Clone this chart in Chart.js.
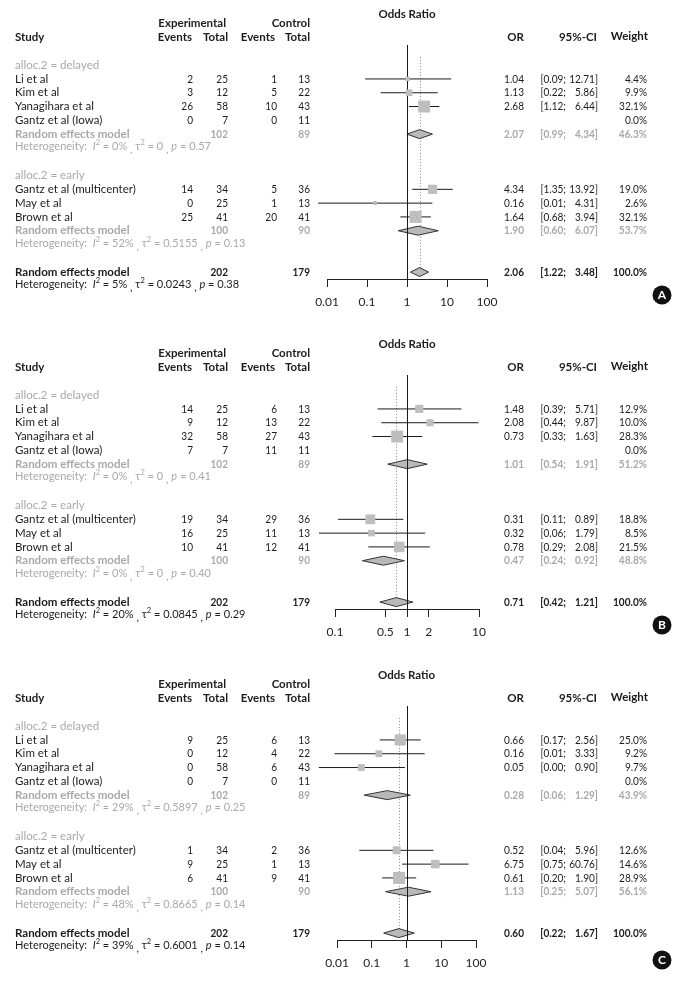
<!DOCTYPE html>
<html>
<head>
<meta charset="utf-8">
<script src="https://cdn.jsdelivr.net/npm/chart.js@4.4.0/dist/chart.umd.min.js"></script>
<style>
  body { margin: 0; background: #fff; }
  canvas { display: block; }
</style>
</head>
<body>
<canvas id="panelA" width="683" height="330"></canvas>
<canvas id="panelB" width="683" height="331"></canvas>
<canvas id="panelC" width="683" height="322"></canvas>
<script>
// studies, same order in all three panels
const studies = ['Li et al', 'Kim et al', 'Yanagihara et al', 'Gantz et al (Iowa)',
                 'Gantz et al (multicenter)', 'May et al', 'Brown et al'];
const groups = ['alloc.2 = delayed', 'alloc.2 = early'];
const groupOf = [0, 0, 0, 0, 1, 1, 1];
const expTotal = [25, 12, 58, 7, 34, 25, 41];
const ctrlTotal = [13, 22, 43, 11, 36, 13, 41];

// panel A
const expEventsA = [2, 3, 26, 0, 14, 0, 25];
const ctrlEventsA = [1, 5, 10, 0, 5, 1, 20];
const orA = [1.04, 1.13, 2.68, null, 4.34, 0.16, 1.64];
const lowerA = [0.09, 0.22, 1.12, null, 1.35, 0.006, 0.68];
const upperA = [12.71, 5.86, 6.44, null, 13.92, 4.31, 3.94];
const weightA = [4.4, 9.9, 32.1, 0.0, 19.0, 2.6, 32.1];
// pooled estimates: delayed, early, overall
const poolOrA = [2.07, 1.90, 2.06];
const poolLowerA = [0.99, 0.60, 1.22];
const poolUpperA = [4.34, 6.07, 3.48];
const poolWeightA = [46.3, 53.7, 100.0];
const hetI2A = ['0%', '52%', '5%'];
const hetTauA = ['0', '0.5155', '0.0243'];
const hetPA = ['0.57', '0.13', '0.38'];
const ticksA = [0.01, 0.1, 1, 10, 100];

// panel B
const expEventsB = [14, 9, 32, 7, 19, 16, 10];
const ctrlEventsB = [6, 13, 27, 11, 29, 11, 12];
const orB = [1.48, 2.08, 0.73, null, 0.31, 0.32, 0.78];
const lowerB = [0.39, 0.44, 0.33, null, 0.11, 0.06, 0.29];
const upperB = [5.71, 9.87, 1.63, null, 0.89, 1.79, 2.08];
const weightB = [12.9, 10.0, 28.3, 0.0, 18.8, 8.5, 21.5];
const poolOrB = [1.01, 0.47, 0.71];
const poolLowerB = [0.54, 0.24, 0.42];
const poolUpperB = [1.91, 0.92, 1.21];
const poolWeightB = [51.2, 48.8, 100.0];
const hetI2B = ['0%', '0%', '20%'];
const hetTauB = ['0', '0', '0.0845'];
const hetPB = ['0.41', '0.40', '0.29'];
const ticksB = [0.1, 0.5, 1, 2, 10];

// panel C
const expEventsC = [9, 0, 0, 0, 1, 9, 6];
const ctrlEventsC = [6, 4, 6, 0, 2, 1, 9];
const orC = [0.66, 0.16, 0.05, null, 0.52, 6.75, 0.61];
const lowerC = [0.17, 0.0085, 0.003, null, 0.044, 0.75, 0.20];
const upperC = [2.56, 3.33, 0.90, null, 5.96, 60.76, 1.90];
const weightC = [25.0, 9.2, 9.7, 0.0, 12.6, 14.6, 28.9];
const poolOrC = [0.28, 1.13, 0.60];
const poolLowerC = [0.06, 0.25, 0.22];
const poolUpperC = [1.29, 5.07, 1.67];
const poolWeightC = [43.9, 56.1, 100.0];
const hetI2C = ['29%', '48%', '39%'];
const hetTauC = ['0.5897', '0.8665', '0.6001'];
const hetPC = ['0.25', '0.14', '0.14'];
const ticksC = [0.01, 0.1, 1, 10, 100];

// row layout (in row units, 0 = first study)
const studyRow = [0, 1, 2, 3, 8, 9, 10];
const groupRow = [-1, 7];
const poolRow = [4, 11, 14];
const hetRow = [5, 12, 15];

const FAM = 'Lato, "DejaVu Sans", sans-serif';
const NORM = '11.5px ' + FAM;
const BOLD = 'bold 11.5px ' + FAM;
const BLACK = '#1c1c1c';
const GRAY = '#a9a9a9';
const NUM = 0.875; // figures are narrower in the original face

function put(ctx, s, x, y, align, font, color, sx) {
  ctx.save();
  ctx.font = font;
  ctx.fillStyle = color;
  ctx.textAlign = align;
  ctx.textBaseline = 'middle';
  ctx.translate(x, y);
  ctx.scale(sx || 1, 1);
  ctx.fillText(s, 0, 0);
  ctx.restore();
}

function hetText(ctx, x, y, i2, tau, p, color) {
  const n = '11px ' + FAM, it = 'italic 11px ' + FAM, sup = '7.5px ' + FAM;
  const runs = [['Heterogeneity:  ', n, 0], ['I', it, 0], ['2', sup, -4], [' = ' + i2 + ' ', n, 0],
    [',', n, 3], [' \u03c4', n, 0], ['2', sup, -4], [' = ' + tau + ' ', n, 0], [',', n, 3],
    [' ', n, 0], ['p', it, 0], [' = ' + p, n, 0]];
  ctx.textAlign = 'left';
  ctx.textBaseline = 'middle';
  ctx.fillStyle = color;
  runs.forEach(([s, f, dy]) => {
    ctx.font = f;
    ctx.fillText(s, x, y + dy);
    x += ctx.measureText(s).width;
  });
}

function ciParts(ctx, lo, hi, y, font, color) {
  put(ctx, '[' + lo.toFixed(2) + ';', 566, y, 'right', font, color, NUM);
  put(ctx, hi.toFixed(2) + ']', 598, y, 'right', font, color, NUM);
}

function forestPlugin(p) {
  return {
    id: 'forest',
    beforeDatasetsDraw(chart) {
      const ctx = chart.ctx, x = chart.scales.x, y = chart.scales.y, a = chart.chartArea;
      ctx.save();
      // dotted line at the overall estimate
      const xd = Math.round(x.getPixelForValue(p.poolOr[2])) + 0.5;
      ctx.strokeStyle = '#8a8a8a';
      ctx.lineWidth = 1;
      ctx.setLineDash([1, 2]);
      ctx.beginPath();
      ctx.moveTo(xd, y.getPixelForValue(-1.6));
      ctx.lineTo(xd, a.bottom - 3);
      ctx.stroke();
      ctx.setLineDash([]);
      // pooled diamonds
      ctx.fillStyle = '#b9b9b9';
      ctx.strokeStyle = '#333';
      p.poolOr.forEach((v, k) => {
        const yy = y.getPixelForValue(poolRow[k]);
        const xe = x.getPixelForValue(v);
        ctx.beginPath();
        ctx.moveTo(x.getPixelForValue(p.poolLower[k]), yy);
        ctx.lineTo(xe, yy - 4.5);
        ctx.lineTo(x.getPixelForValue(p.poolUpper[k]), yy);
        ctx.lineTo(xe, yy + 4.5);
        ctx.closePath();
        ctx.fill();
        ctx.stroke();
      });
      // line of no effect
      const x1 = Math.round(x.getPixelForValue(1)) + 0.5;
      ctx.strokeStyle = '#1a1a1a';
      ctx.beginPath();
      ctx.moveTo(x1, a.top);
      ctx.lineTo(x1, a.bottom);
      ctx.stroke();
      ctx.restore();
    },
    afterDraw(chart) {
      const ctx = chart.ctx, y = chart.scales.y, a = chart.chartArea;
      const Y = r => y.getPixelForValue(r);
      ctx.save();
      // column headers
      put(ctx, 'Odds Ratio', (a.left + a.right) / 2, Y(-4.7), 'center', BOLD, BLACK);
      put(ctx, 'Experimental', 226, Y(-4.05), 'right', BOLD, BLACK);
      put(ctx, 'Control', 310, Y(-4.05), 'right', BOLD, BLACK);
      put(ctx, 'Study', 15, Y(-3.04), 'left', BOLD, BLACK);
      put(ctx, 'Events', 192, Y(-3.04), 'right', BOLD, BLACK);
      put(ctx, 'Total', 228, Y(-3.04), 'right', BOLD, BLACK);
      put(ctx, 'Events', 275, Y(-3.04), 'right', BOLD, BLACK);
      put(ctx, 'Total', 310, Y(-3.04), 'right', BOLD, BLACK);
      put(ctx, 'OR', 524, Y(-3.04), 'right', BOLD, BLACK);
      put(ctx, '95%-CI', 597, Y(-3.04), 'right', BOLD, BLACK);
      put(ctx, 'Weight', 648, Y(-3.1), 'right', BOLD, BLACK);

      groups.forEach((g, k) => put(ctx, g, 15, Y(groupRow[k]), 'left', NORM, GRAY));

      studies.forEach((s, i) => {
        const r = Y(studyRow[i]);
        put(ctx, s, 15, r, 'left', NORM, BLACK);
        put(ctx, String(p.expEvents[i]), 193, r, 'right', NORM, BLACK, NUM);
        put(ctx, String(expTotal[i]), 228, r, 'right', NORM, BLACK, NUM);
        put(ctx, String(p.ctrlEvents[i]), 277, r, 'right', NORM, BLACK, NUM);
        put(ctx, String(ctrlTotal[i]), 310, r, 'right', NORM, BLACK, NUM);
        if (p.or[i] !== null) {
          put(ctx, p.or[i].toFixed(2), 524, r, 'right', NORM, BLACK, NUM);
          ciParts(ctx, p.lower[i], p.upper[i], r, NORM, BLACK);
        }
        put(ctx, p.weight[i].toFixed(1) + '%', 647, r, 'right', NORM, BLACK, NUM);
      });

      // pooled rows: two subgroups (gray), overall (black)
      [0, 1, 2].forEach(k => {
        const r = Y(poolRow[k]);
        const col = k < 2 ? GRAY : BLACK;
        const inGroup = i => k === 2 || groupOf[i] === k;
        const eT = expTotal.filter((v, i) => inGroup(i)).reduce((s, v) => s + v, 0);
        const cT = ctrlTotal.filter((v, i) => inGroup(i)).reduce((s, v) => s + v, 0);
        put(ctx, 'Random effects model', 15, r, 'left', BOLD, col);
        put(ctx, String(eT), 228, r, 'right', BOLD, col, NUM);
        put(ctx, String(cT), 310, r, 'right', BOLD, col, NUM);
        put(ctx, p.poolOr[k].toFixed(2), 524, r, 'right', BOLD, col, NUM);
        ciParts(ctx, p.poolLower[k], p.poolUpper[k], r, BOLD, col);
        put(ctx, p.poolWeight[k].toFixed(1) + '%', 647, r, 'right', BOLD, col, NUM);
        hetText(ctx, 15, Y(hetRow[k]) - 1, p.hetI2[k], p.hetTau[k], p.hetP[k], col);
      });

      // panel letter
      ctx.fillStyle = '#111';
      ctx.beginPath();
      ctx.arc(662, p.letterY, 9.5, 0, Math.PI * 2);
      ctx.fill();
      put(ctx, p.letter, 662, p.letterY + 0.5, 'center', 'bold 12px ' + FAM, '#fff');
      ctx.restore();
    }
  };
}

function drawPanel(id, p) {
  const canvas = document.getElementById(id);
  const H = canvas.height;
  const wMax = Math.max(...p.weight);
  const squares = [], radii = [], centres = [], whiskers = [];
  p.or.forEach((v, i) => {
    if (v === null) return;
    const r = studyRow[i];
    squares.push({ x: v, y: r });
    radii.push(12 * Math.sqrt(p.weight[i] / wMax) / Math.SQRT2);
    centres.push({ x: v, y: r });
    whiskers.push({ x: p.lower[i], y: r }, { x: p.upper[i], y: r }, { x: null, y: null });
  });

  new Chart(canvas, {
    type: 'scatter',
    data: {
      datasets: [
        { data: squares, pointStyle: 'rect', pointRadius: radii, backgroundColor: '#bebebe',
          borderWidth: 0, clip: false },
        { type: 'line', data: whiskers, borderColor: '#1a1a1a', borderWidth: 1, pointRadius: 0,
          spanGaps: false, tension: 0, clip: false },
        { data: centres, pointStyle: 'line', rotation: 90, pointRadius: 1.8, borderColor: '#000',
          borderWidth: 1.2, clip: false }
      ]
    },
    options: {
      responsive: false,
      animation: false,
      events: [],
      layout: { padding: { left: p.left, right: 683 - p.right, top: 45, bottom: H - 279 - 30 } },
      plugins: { legend: { display: false }, tooltip: { enabled: false } },
      scales: {
        x: {
          type: 'logarithmic',
          min: p.ticks[0],
          max: p.ticks[p.ticks.length - 1],
          afterBuildTicks: s => { s.ticks = p.ticks.map(v => ({ value: v })); },
          afterFit: s => { s.height = 30; },
          grid: { drawOnChartArea: false, drawTicks: true, tickLength: 8, color: '#222', lineWidth: 1 },
          border: { display: true, color: '#222', width: 1 },
          ticks: { autoSkip: false, maxRotation: 0, padding: 8, color: '#222',
                   font: { family: FAM, size: 12 },
                   callback: (v, i) => String(p.ticks[i]) }
        },
        y: { type: 'linear', reverse: true, min: -2.46, max: 14.5, display: false }
      }
    },
    plugins: [forestPlugin(p)]
  });
}

drawPanel('panelA', {
  expEvents: expEventsA, ctrlEvents: ctrlEventsA, or: orA, lower: lowerA, upper: upperA, weight: weightA,
  poolOr: poolOrA, poolLower: poolLowerA, poolUpper: poolUpperA, poolWeight: poolWeightA,
  hetI2: hetI2A, hetTau: hetTauA, hetP: hetPA, ticks: ticksA,
  left: 327, right: 487, letter: 'A', letterY: 295
});
drawPanel('panelB', {
  expEvents: expEventsB, ctrlEvents: ctrlEventsB, or: orB, lower: lowerB, upper: upperB, weight: weightB,
  poolOr: poolOrB, poolLower: poolLowerB, poolUpper: poolUpperB, poolWeight: poolWeightB,
  hetI2: hetI2B, hetTau: hetTauB, hetP: hetPB, ticks: ticksB,
  left: 335, right: 479, letter: 'B', letterY: 295
});
drawPanel('panelC', {
  expEvents: expEventsC, ctrlEvents: ctrlEventsC, or: orC, lower: lowerC, upper: upperC, weight: weightC,
  poolOr: poolOrC, poolLower: poolLowerC, poolUpper: poolUpperC, poolWeight: poolWeightC,
  hetI2: hetI2C, hetTau: hetTauC, hetP: hetPC, ticks: ticksC,
  left: 337, right: 476, letter: 'C', letterY: 299
});
</script>
</body>
</html>
